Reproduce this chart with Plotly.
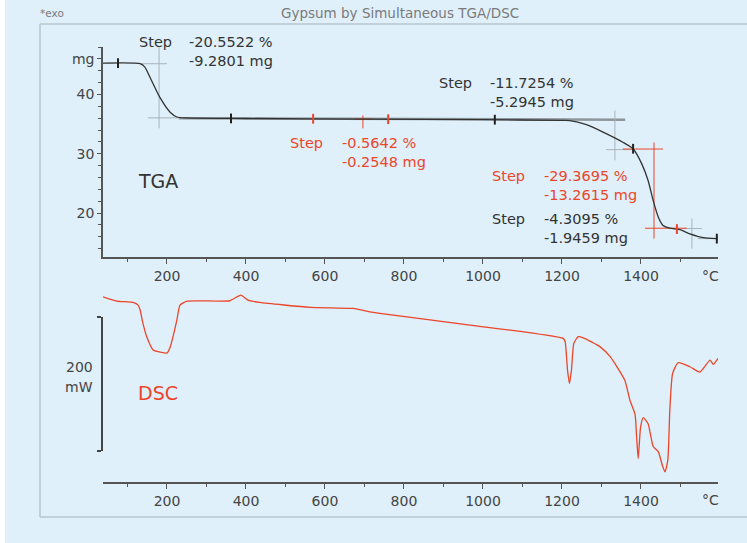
import plotly.graph_objects as go

W, H = 747, 543
FONT = "DejaVu Sans"
RED = "#ec4529"
DARK = "#333333"

# TGA mass curve (deg C, mg)
tga_temp = [38, 132, 144, 157, 182, 208, 225, 250, 400, 700, 1000, 1200,
            1220, 1262, 1304, 1354, 1380, 1402, 1418, 1431, 1444, 1456,
            1473, 1499, 1524, 1558, 1592]
tga_mass = [45.28, 45.18, 44.6, 42.9, 39.5, 37.0, 36.2, 36.05, 35.95, 35.85, 35.75, 35.62,
            35.6, 34.9, 33.65, 31.95, 30.85, 28.3, 25.5, 22.1, 19.3, 17.9,
            17.45, 17.2, 16.5, 15.85, 15.7]

# DSC heat flow curve (deg C, mW)
dsc_temp = [38, 73, 114, 127, 132, 139, 149, 165, 182, 200,
            208, 215, 225, 233, 251, 359, 387, 405, 435, 562,
            671, 714, 739, 967, 1203, 1208, 1214, 1219, 1224, 1230,
            1241, 1254, 1296, 1322, 1359, 1372, 1385, 1389, 1393, 1399,
            1406, 1418, 1431, 1444, 1455, 1461, 1468, 1473, 1480, 1494,
            1524, 1549, 1575, 1583, 1595]
dsc_mw = [6.4, 0, -2, -6, -13.4, -32.8, -53.7, -73, -76, -77.6,
          -69, -53.7, -28.4, -6, 0, 0.5, 9, 1.5, -2, -9.4,
          -11, -16, -18.4, -35.8, -55.7, -60.7, -103, -123, -103, -63,
          -53, -55, -68, -83, -118, -148, -169, -203, -235, -188,
          -174, -183, -217, -225, -247, -255, -237, -163, -108, -92,
          -98, -106, -88, -94.5, -85.5]

# step evaluation marks on the TGA curve
mark_temp_black = [76, 362, 1030, 1380, 1592]
mark_mass_black = [45.28, 35.96, 35.75, 30.85, 15.7]
mark_temp_red = [570, 760, 1491]
mark_mass_red = [35.9, 35.83, 17.3]

# evaluation cross lines (None separates segments)
cross_temp_gray = [180, 180, None, 132, 200, None, 152, 233, None,
                   1334, 1334, None, 1312, 1380, None,
                   1529, 1529, None, 1506, 1554, None, 1544, 1595]
cross_mass_gray = [48, 34.3, None, 45.18, 45.18, None, 36.05, 36.05, None,
                   37.3, 28.9, None, 30.7, 30.7, None,
                   19.1, 14.0, None, 17.4, 17.4, None, 15.7, 15.7]
cross_temp_red = [696, 696, None, 676, 719, None,
                  1433, 1433, None, 1354, 1456, None, 1410, 1516]
cross_mass_red = [36.46, 34.27, None, 35.85, 35.85, None,
                  31.9, 15.7, None, 30.8, 30.8, None, 17.45, 17.45]
baseline_temp = [230, 1360]
baseline_mass = [35.97, 35.75]

# step texts
step_pct = ["-20.5522 %", "-0.5642 %", "-11.7254 %", "-29.3695 %", "-4.3095 %"]
step_mg = ["-9.2801 mg", "-0.2548 mg", "-5.2945 mg", "-13.2615 mg", "-1.9459 mg"]
step_color = [DARK, RED, DARK, RED, DARK]
step_pos = [(137, 42), (288, 143), (437, 83), (490, 176), (490, 219)]
step_val_x = [187, 340, 488, 542, 542]

x_ticks = [200, 400, 600, 800, 1000, 1200, 1400]
x_minor = [100, 300, 500, 700, 900, 1100, 1300, 1500]


def px_x(x):
    return x / W


def px_y(y):
    return 1 - y / H


def note(x, y, text, color=DARK, size=14.5, xanchor="left"):
    return dict(x=px_x(x), y=px_y(y), xref="paper", yref="paper", text=text,
                showarrow=False, xanchor=xanchor, yanchor="middle",
                font=dict(family=FONT, size=size, color=color))


fig = go.Figure()

fig.add_trace(go.Scatter(x=baseline_temp, y=baseline_mass, mode="lines",
                         line=dict(color="#8e959b", width=2.5), xaxis="x", yaxis="y"))
fig.add_trace(go.Scatter(x=cross_temp_gray, y=cross_mass_gray, mode="lines",
                         line=dict(color="#a9b3ba", width=1), xaxis="x", yaxis="y"))
fig.add_trace(go.Scatter(x=cross_temp_red, y=cross_mass_red, mode="lines",
                         line=dict(color=RED, width=1), xaxis="x", yaxis="y"))
fig.add_trace(go.Scatter(x=tga_temp, y=tga_mass, mode="lines",
                         line=dict(color=DARK, width=1.3, shape="spline", smoothing=0.6),
                         xaxis="x", yaxis="y"))
fig.add_trace(go.Scatter(x=mark_temp_black, y=mark_mass_black, mode="markers",
                         marker=dict(symbol="line-ns", size=7, line=dict(color="#222", width=2)),
                         xaxis="x", yaxis="y", cliponaxis=False))
fig.add_trace(go.Scatter(x=mark_temp_red, y=mark_mass_red, mode="markers",
                         marker=dict(symbol="line-ns", size=7, line=dict(color=RED, width=2)),
                         xaxis="x", yaxis="y", cliponaxis=False))

fig.add_trace(go.Scatter(x=dsc_temp, y=dsc_mw, mode="lines",
                         line=dict(color=RED, width=1.3, shape="spline", smoothing=0.5),
                         xaxis="x2", yaxis="y2"))
# empty trace so the scale-bar axis gets drawn
fig.add_trace(go.Scatter(x=[], y=[], xaxis="x2", yaxis="y3"))

xdom = [px_x(103), px_x(718)]
axis_font = dict(family=FONT, size=14, color="#444")
xcommon = dict(domain=xdom, range=[38, 1595], showline=True, linecolor="#555",
               linewidth=1.5, ticks="outside", tickvals=x_ticks, ticklen=5,
               tickcolor="#555", tickwidth=1, showgrid=False, zeroline=False,
               tickfont=axis_font,
               minor=dict(tickvals=x_minor, ticks="outside", ticklen=3,
                          tickcolor="#555", showgrid=False))

annotations = []
for i in range(len(step_pct)):
    sx, sy = step_pos[i]
    annotations.append(note(sx, sy, "Step", step_color[i]))
    annotations.append(note(step_val_x[i], sy, step_pct[i], step_color[i]))
    annotations.append(note(step_val_x[i], sy + 19, step_mg[i], step_color[i]))

annotations += [
    note(136, 181, "TGA", DARK, 19),
    note(136, 393, "DSC", RED, 19),
    note(95, 367, "200", "#444", 14, "right"),
    note(95, 387, "mW", "#444", 14, "right"),
    note(710, 276, "°C", "#444", 14, "center"),
    note(710, 500, "°C", "#444", 14, "center"),
    note(400, 13, "Gypsum by Simultaneous TGA/DSC", "#7a7a7a", 13.5, "center"),
    note(38, 13, "*exo", "#7a7a7a", 10.5),
]

frame = dict(type="line", xref="paper", yref="paper",
             line=dict(color="#b9c6ce", width=1.5))
shapes = [
    dict(frame, x0=px_x(40), x1=1, y0=px_y(24), y1=px_y(24)),
    dict(frame, x0=px_x(40), x1=px_x(40), y0=px_y(24), y1=px_y(517)),
    dict(frame, x0=px_x(40), x1=1, y0=px_y(517), y1=px_y(517)),
    dict(type="rect", xref="paper", yref="paper", x0=0, x1=px_x(5), y0=0, y1=1,
         fillcolor="white", line=dict(width=0), layer="below"),
]

fig.update_layout(
    width=W, height=H, autosize=False,
    margin=dict(l=0, r=0, t=0, b=0),
    paper_bgcolor="#dff0fa", plot_bgcolor="rgba(0,0,0,0)",
    showlegend=False,
    font=dict(family=FONT, color="#444"),
    xaxis=dict(xcommon, anchor="y"),
    xaxis2=dict(xcommon, anchor="y2", matches="x"),
    yaxis=dict(domain=[px_y(257), px_y(47)], range=[12.6, 48], anchor="x",
               showline=True, linecolor="#555", linewidth=1.5,
               ticks="outside", tickvals=[20, 30, 40, 46],
               ticktext=["20", "30", "40", "mg"], ticklen=4, tickcolor="#555",
               showgrid=False, zeroline=False, tickfont=axis_font,
               minor=dict(tickvals=list(range(14, 49, 2)), ticks="outside",
                          ticklen=3, tickcolor="#555", showgrid=False)),
    yaxis2=dict(domain=[px_y(482), px_y(285)], range=[-270, 24], anchor="x2",
                visible=False),
    yaxis3=dict(domain=[px_y(451), px_y(317)], range=[-224, -24], anchor="x2",
                showline=True, linecolor="#444", linewidth=1.5,
                ticks="outside", tickvals=[-224, -24], ticklen=4,
                tickcolor="#444", tickwidth=1.5, showticklabels=False,
                showgrid=False, zeroline=False),
    annotations=annotations,
    shapes=shapes,
)

# page body margin would push the fixed-size figure off by 8px
fig.write_html("out.html", config={"displayModeBar": False},
               post_script="document.body.style.margin='0';document.body.style.overflow='hidden';")
